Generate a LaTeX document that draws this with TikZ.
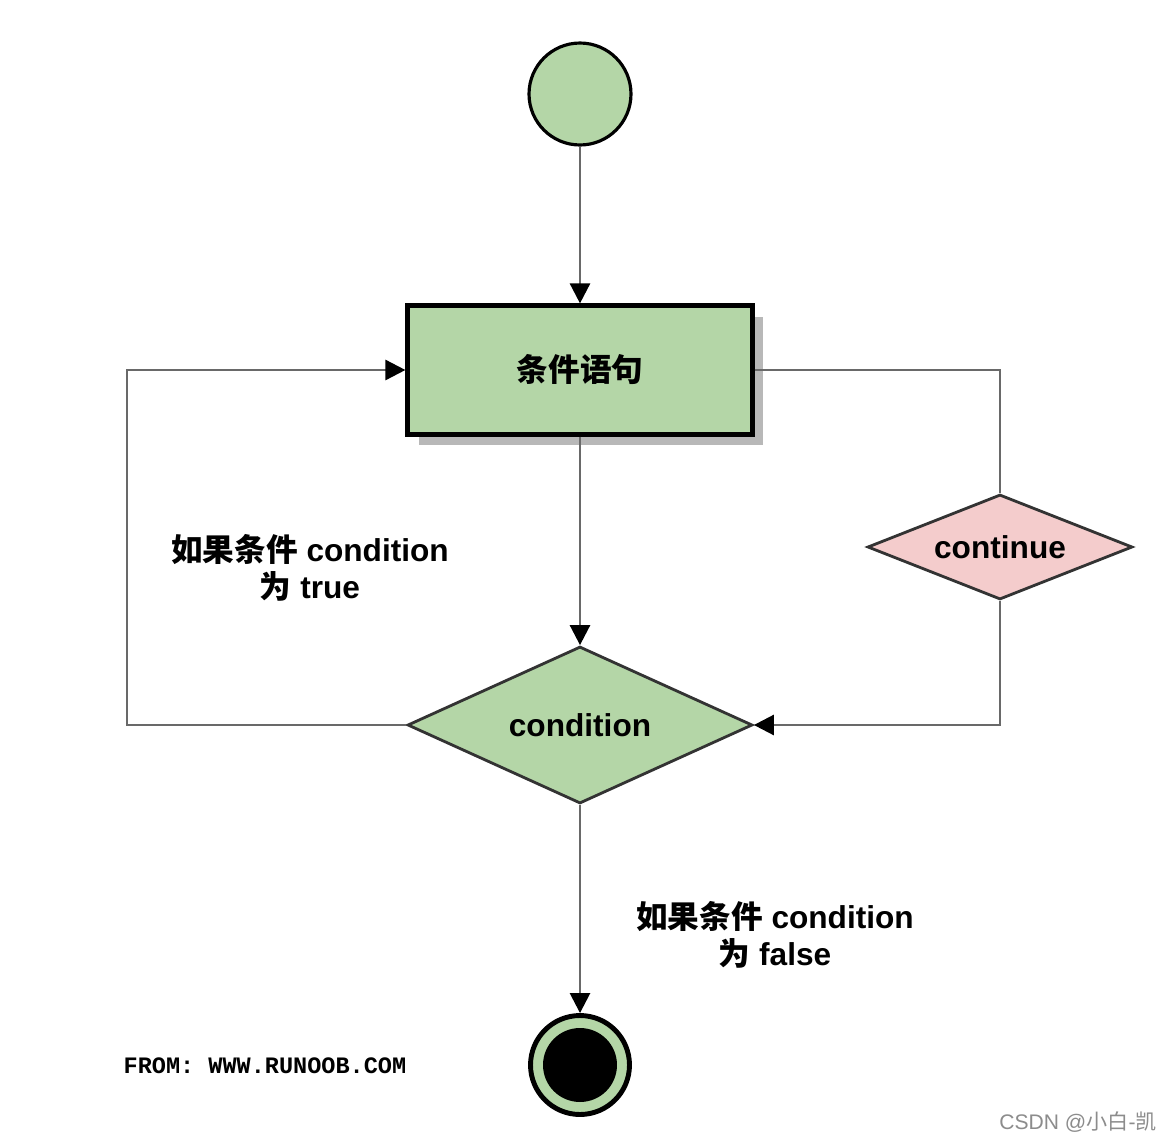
\documentclass[tikz,border=0pt]{standalone}
\usepackage{fontspec}
\setmainfont{Liberation Sans}
\setmonofont{Liberation Mono}
\newfontfamily\cjk{Noto Sans CJK SC}
\usepackage{tikz}
\usetikzlibrary{arrows.meta}
\usetikzlibrary{shapes.geometric}
\usetikzlibrary{shadows}
\usepackage{xcolor}
\definecolor{nodegreen}{RGB}{180,214,167}
\definecolor{nodepink}{RGB}{244,204,204}
\definecolor{linegray}{RGB}{105,105,105}

\begin{document}
\begin{tikzpicture}[x=0.02cm, y=-0.02cm,
  every node/.style={font=\bfseries\fontsize{18}{21}\selectfont},
  startnode/.style={circle, draw, line width=1.8pt, fill=nodegreen, minimum size=2.04cm, inner sep=0pt},
  stmtbox/.style={rectangle, draw, line width=2.4pt, fill=nodegreen, minimum width=6.9cm, minimum height=2.58cm,
    drop shadow={shadow xshift=0.22cm, shadow yshift=-0.22cm, fill=black!28, opacity=1}},
  conddia/.style={diamond, draw=black!80, line width=1.6pt, fill=nodegreen, minimum width=6.9cm, minimum height=3.14cm, shape aspect=2.2, inner sep=0pt},
  contdia/.style={diamond, draw=black!80, line width=1.6pt, fill=nodepink, minimum width=5.3cm, minimum height=2.1cm, shape aspect=2.5, inner sep=0pt},
  stopnode/.style={circle, draw, line width=2.8pt, fill=nodegreen, minimum size=1.98cm, inner sep=0pt},
  link/.style={draw=linegray, line width=1.5pt},
  flow/.style={link, -{Triangle[length=0.4cm, width=0.4cm, color=black]}},
  note/.style={align=center}]

  \useasboundingbox[fill=white] (0,0) rectangle (1160,1143);

  \node[startnode] (start) at (580,94) {};
  \node[stmtbox] (stmt) at (580,370) {{\cjk 条件语句}};
  \node[conddia] (cond) at (580,725) {condition};
  \node[contdia] (cont) at (1000,547) {continue};
  \node[stopnode] (stop) at (580,1065) {};
  \fill (stop) circle (0.74cm);
  \coordinate (lft) at (127,550);

  \draw[flow] (start) -- (stmt);
  \draw[flow] (stmt) -- (cond);
  \draw[flow] (cond.west) -| (lft) |- (stmt.west);
  \draw[link] (stmt.east) -| (cont.north);
  \draw[flow] (cont.south) |- (cond.east);
  \draw[flow] (cond) -- (stop);

  \node[note] (truelbl) at (310,568) {{\cjk 如果条件} condition\\{\cjk 为} true};
  \node[note] (falselbl) at (775,935) {{\cjk 如果条件} condition\\{\cjk 为} false};
  \node[font=\ttfamily\bfseries\fontsize{13.4}{16}\selectfont] (src) at (265,1066) {FROM: WWW.RUNOOB.COM};
  \node[font=\fontsize{12}{14}\selectfont, text=black!45, anchor=east, inner sep=0pt] (mark) at (1157,1122) {CSDN @{\cjk 小白}-{\cjk 凯}};

\end{tikzpicture}
\end{document}
